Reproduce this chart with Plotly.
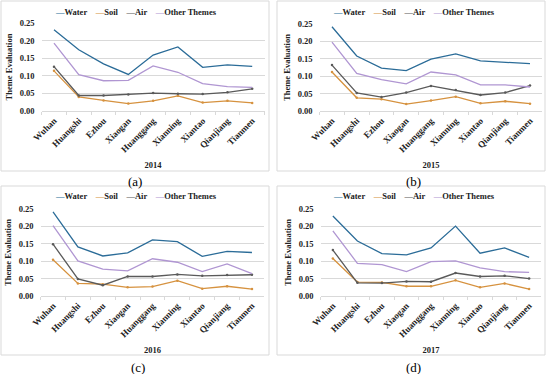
import plotly.graph_objects as go

cities = ["Wuhan", "Huangshi", "Ezhou", "Xiaogan", "Huanggang", "Xianning", "Xiantao", "Qianjiang", "Tianmen"]
years = ["2014", "2015", "2016", "2017"]
panel_labels = ["(a)", "(b)", "(c)", "(d)"]
y_ticks = [0.0, 0.05, 0.10, 0.15, 0.20, 0.25]

water_2014 = [0.231, 0.174, 0.134, 0.104, 0.159, 0.182, 0.124, 0.131, 0.127]
soil_2014 = [0.114, 0.040, 0.030, 0.021, 0.029, 0.043, 0.024, 0.029, 0.023]
air_2014 = [0.126, 0.044, 0.044, 0.047, 0.051, 0.049, 0.048, 0.053, 0.063]
other_2014 = [0.193, 0.103, 0.086, 0.087, 0.128, 0.110, 0.078, 0.069, 0.067]

water_2015 = [0.242, 0.158, 0.123, 0.116, 0.149, 0.164, 0.144, 0.141, 0.136]
soil_2015 = [0.112, 0.038, 0.034, 0.020, 0.030, 0.041, 0.022, 0.028, 0.021]
air_2015 = [0.132, 0.052, 0.040, 0.053, 0.072, 0.060, 0.046, 0.053, 0.073]
other_2015 = [0.198, 0.108, 0.090, 0.078, 0.112, 0.104, 0.075, 0.075, 0.069]

water_2016 = [0.242, 0.141, 0.115, 0.124, 0.161, 0.156, 0.114, 0.128, 0.125]
soil_2016 = [0.104, 0.036, 0.034, 0.025, 0.027, 0.044, 0.021, 0.028, 0.020]
air_2016 = [0.149, 0.049, 0.031, 0.056, 0.056, 0.062, 0.058, 0.060, 0.061]
other_2016 = [0.202, 0.101, 0.077, 0.072, 0.107, 0.097, 0.070, 0.092, 0.064]

water_2017 = [0.230, 0.158, 0.122, 0.118, 0.138, 0.201, 0.123, 0.138, 0.111]
soil_2017 = [0.108, 0.040, 0.039, 0.028, 0.028, 0.045, 0.025, 0.036, 0.020]
air_2017 = [0.132, 0.038, 0.037, 0.042, 0.041, 0.066, 0.056, 0.058, 0.050]
other_2017 = [0.187, 0.094, 0.090, 0.070, 0.099, 0.101, 0.081, 0.070, 0.068]

series_names = ["Water", "Soil", "Air", "Other Themes"]
data = {
    "2014": [water_2014, soil_2014, air_2014, other_2014],
    "2015": [water_2015, soil_2015, air_2015, other_2015],
    "2016": [water_2016, soil_2016, air_2016, other_2016],
    "2017": [water_2017, soil_2017, air_2017, other_2017],
}
colors = ["#2b6c98", "#d6923f", "#5a5a5a", "#b096d2"]
markers = [False, True, True, False]

W, H = 550, 374
FONT = "Times New Roman, Liberation Serif, serif"
TXT = "#222222"

# panel geometry in pixels
panels = [
    dict(x0=41.6, x1=264.6, yt=23, yb=111, box=(1, 1, 269, 171), leg=(136, 12), lab=(135, 182)),
    dict(x0=319.6, x1=542.4, yt=24, yb=111, box=(277, 1, 545, 171), leg=(414, 12), lab=(413, 182)),
    dict(x0=40.6, x1=264.4, yt=209, yb=296, box=(1, 186, 269, 355), leg=(136, 196), lab=(138, 367)),
    dict(x0=320.6, x1=541.4, yt=209, yb=296, box=(277, 186, 545, 355), leg=(414, 196), lab=(413, 367)),
]

fig = go.Figure()
shapes = []
annotations = []
layout = {}
tickfont = dict(family=FONT, size=8.5, color=TXT, weight="bold")
for i, yr in enumerate(years):
    p = panels[i]
    n = "" if i == 0 else str(i + 1)
    xa, ya = "x" + n, "y" + n
    for s, name in enumerate(series_names):
        fig.add_trace(go.Scatter(
            x=cities, y=data[yr][s], name=name, xaxis=xa, yaxis=ya,
            mode="lines+markers" if markers[s] else "lines",
            line=dict(color=colors[s], width=1.3),
            marker=dict(size=2.5, color=colors[s]),
            showlegend=False,
        ))
    layout["xaxis" + n] = dict(
        domain=[p["x0"] / W, p["x1"] / W], anchor=ya, type="category",
        range=[-0.5, 8.5], tickangle=-45, showgrid=False, automargin=False,
        showline=True, linecolor="#d9d9d9", linewidth=1,
        ticks="outside", ticklen=3, tickcolor="#d9d9d9", tickson="boundaries",
        tickfont=dict(family=FONT, size=9, color=TXT, weight="bold"),
        title=dict(text=yr, font=dict(family=FONT, size=8.5, color=TXT, weight="bold"), standoff=8),
        fixedrange=True,
    )
    layout["yaxis" + n] = dict(
        domain=[1 - p["yb"] / H, 1 - p["yt"] / H], anchor=xa, automargin=False,
        range=[0, 0.25], tickvals=y_ticks, tickformat=".2f",
        showgrid=True, gridcolor="#d9d9d9", gridwidth=1, zeroline=False,
        showline=False, ticks="", ticklabelstandoff=6,
        tickfont=tickfont,
        title=dict(text="Theme Evaluation", font=dict(family=FONT, size=8.5, color=TXT, weight="bold"), standoff=5),
        fixedrange=True,
    )
    leg_txt = "&nbsp;&nbsp;&nbsp;&nbsp;".join(
        "<span style='color:%s'>—</span>%s" % (colors[s], series_names[s]) for s in range(4)
    )
    annotations.append(dict(text="<b>" + leg_txt + "</b>", xref="paper", yref="paper",
                            x=p["leg"][0] / W, y=1 - p["leg"][1] / H, showarrow=False,
                            xanchor="center", yanchor="middle",
                            font=dict(family=FONT, size=8.5, color=TXT)))
    bx0, by0, bx1, by1 = p["box"]
    shapes.append(dict(type="rect", xref="paper", yref="paper",
                       x0=bx0 / W, x1=bx1 / W, y0=1 - by1 / H, y1=1 - by0 / H,
                       line=dict(color="#d9d9d9", width=1), fillcolor="rgba(0,0,0,0)", layer="below"))
    annotations.append(dict(text=panel_labels[i], xref="paper", yref="paper",
                            x=p["lab"][0] / W, y=1 - p["lab"][1] / H, showarrow=False,
                            xanchor="center", yanchor="middle",
                            font=dict(family=FONT, size=13, color="#000")))

fig.update_layout(
    width=W, height=H, margin=dict(l=0, r=0, t=0, b=0),
    paper_bgcolor="white", plot_bgcolor="white", showlegend=False,
    shapes=shapes, annotations=annotations, **layout,
)
fig.write_html("out.html", config={"displayModeBar": False, "staticPlot": True},
               post_script="document.body.style.margin='0px';document.body.style.overflow='hidden';")
